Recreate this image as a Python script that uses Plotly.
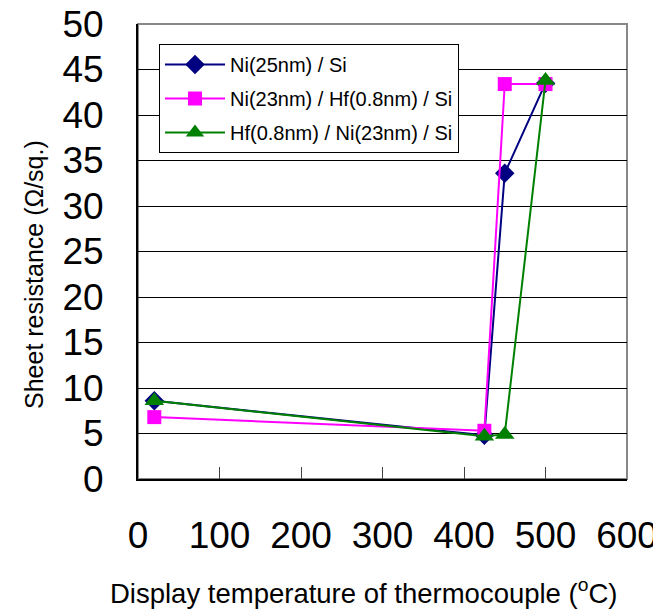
import plotly.graph_objects as go

temps = [20, 425, 450, 500]
ni25_si = [8.6, 4.8, 33.6, 43.5]
ni23_hf_si = [6.8, 5.3, 43.4, 43.4]
hf_ni23_si = [8.6, 4.7, 4.9, 43.8]

names = ["Ni(25nm) / Si", "Ni(23nm) / Hf(0.8nm) / Si", "Hf(0.8nm) / Ni(23nm) / Si"]
colors = ["#000080", "#FF00FF", "#008000"]
symbols = ["diamond", "square", "triangle-up"]
sizes = [15, 14, 17]
x_ticks = [0, 100, 200, 300, 400, 500, 600]
y_ticks = list(range(0, 51, 5))

FONT = "Liberation Sans, Arial, sans-serif"

fig = go.Figure()
for i, (name, vals, c, s, sz) in enumerate(zip(names, [ni25_si, ni23_hf_si, hf_ni23_si], colors, symbols, sizes)):
    fig.add_trace(go.Scatter(
        x=temps, y=vals, name=name, mode="lines+markers", legendgroup=f"g{i}",
        line=dict(color=c, width=2),
        marker=dict(symbol=s, size=sz, color=c, line=dict(width=0)),
    ))

# page has an 8px body margin; figure sized to fit the 661x614 window
fig.update_layout(
    width=653, height=606,
    margin=dict(l=130, r=34, t=16, b=135, autoexpand=False),
    paper_bgcolor="white", plot_bgcolor="white",
    font=dict(family=FONT, color="black"),
    showlegend=True,
    legend=dict(
        x=(159 - 138) / 489, y=(479 - 44) / 455, xanchor="left", yanchor="top",
        bgcolor="white", bordercolor="black", borderwidth=1,
        font=dict(size=20, family=FONT), itemwidth=60,
        tracegroupgap=5,
    ),
    shapes=[dict(type="rect", xref="paper", yref="paper", x0=0, y0=0, x1=1, y1=1,
                 line=dict(color="#888888", width=2), layer="below")],
    annotations=[
        dict(text="Display temperature of thermocouple (<sup>o</sup>C)", xref="paper", yref="paper",
             x=(363 - 138) / 489, y=-(591 - 479) / 455, xanchor="center", yanchor="middle",
             showarrow=False, font=dict(size=27.5, family=FONT)),
        dict(text="Sheet resistance (Ω/sq.)", xref="paper", yref="paper",
             x=-(138 - 34) / 489, y=(479 - 275) / 455, xanchor="center", yanchor="middle",
             textangle=-90, showarrow=False, font=dict(size=25, family=FONT)),
    ],
)

fig.update_xaxes(
    range=[0, 600], tickvals=x_ticks, ticktext=[str(v) for v in x_ticks],
    showgrid=False, zeroline=False, automargin=False,
    showline=True, linecolor="black", linewidth=2,
    ticks="inside", ticklen=12, tickcolor="#444444", tickwidth=1,
    tickfont=dict(size=37, family=FONT), ticklabelstandoff=23,
    ticklabeloverflow="allow",
)
fig.update_yaxes(
    range=[0, 50], tickvals=y_ticks, ticktext=[str(v) for v in y_ticks],
    showgrid=True, gridcolor="black", gridwidth=1, zeroline=False, automargin=False,
    showline=True, linecolor="black", linewidth=2,
    ticks="", tickfont=dict(size=37, family=FONT), ticklabelstandoff=25,
    ticklabeloverflow="allow",
)

fig.write_html("out.html")
